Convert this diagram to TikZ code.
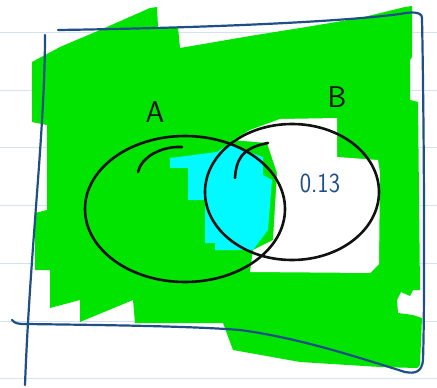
\documentclass[tikz,border=0pt]{standalone}
\usepackage{tikz}
\usetikzlibrary{calc}
\definecolor{pagelines}{HTML}{D3E2EE}
\definecolor{markgreen}{HTML}{00E400}
\definecolor{markcyan}{HTML}{00FAFF}
\definecolor{penblue}{HTML}{1F4F86}
\definecolor{penblack}{HTML}{111111}

\begin{document}
\begin{tikzpicture}[
    x=1pt, y=-1pt,
    line cap=round, line join=round,
    pagerule/.style={draw=pagelines, line width=0.9pt},
    framepen/.style={draw=penblue, line width=2.2pt},
    setpen/.style={draw=penblack, line width=2.6pt},
    setlabel/.style={text=penblack, font=\sffamily\fontsize{30}{30}\selectfont, inner sep=0pt},
    valuelabel/.style={text=penblue, font=\sffamily\fontsize{24}{24}\selectfont, yscale=1.15, inner sep=0pt}
  ]
    % Blatt (Hintergrund und Linien)
    \fill[white] (0,0) rectangle (437,388);
    \useasboundingbox (0,0) rectangle (437,388);
    \foreach \ly in {32,90,147,205,263,321,378}
      \draw[pagerule] (0,\ly) -- (437,\ly);

    % gruene Markierung (Komplement von B ohne A-Teil)
    \fill[markgreen] (32,62) -- (60,47) -- (100,30) -- (150,8) -- (157,7) -- (158,27)
      -- (178,27) -- (180,48) -- (250,36) -- (300,28) -- (360,18) -- (405,7)
      -- (412,6) -- (412,57) -- (410,60) -- (410,100) -- (418,102) -- (420,290)
      -- (413,290) -- (410,296) -- (401,292) -- (397,300) -- (398,313) -- (413,315)
      -- (422,318) -- (420,365) -- (417,368) -- (380,367) -- (300,362) -- (233,350)
      -- (223,323) -- (135,323) -- (133,300) -- (80,322) -- (80,300) -- (50,308)
      -- (50,270) -- (35,270) -- (35,213) -- (47,210) -- (47,125) -- (32,122) -- cycle;

    % weisser Bereich in B
    \fill[white] (233,140) -- (250,130) -- (280,119) -- (337,118) -- (337,157)
      -- (378,160) -- (380,173) -- (379,264) -- (370,273) -- (250,272) -- (253,250)
      -- (273,240) -- (277,173) -- (267,143) -- cycle;

    % Schnittmenge (cyan)
    \fill[markcyan] (170,158) -- (170,168) -- (188,168) -- (188,200) -- (205,200)
      -- (205,243) -- (215,243) -- (215,250) -- (253,250) -- (268,230) -- (272,180)
      -- (263,175) -- (263,157) -- (238,148) -- (230,143) -- (217,152) -- cycle;

    % Mengen A und B
    \draw[setpen] (185,209) ellipse [x radius=100pt, y radius=73pt];
    \draw[setpen] (292,192) ellipse [x radius=87pt, y radius=68pt];
    \draw[setpen] (138,172) .. controls (141,158) and (160,146) .. (182,147);
    \draw[setpen] (235,178) .. controls (236,162) and (240,148) .. (268,143);

    % Rahmen (Grundmenge)
    \draw[framepen] (58,30) .. controls (200,28) and (340,22) .. (400,14)
      .. controls (410,12) and (422,11) .. (422,18);
    \draw[framepen] (422,18) .. controls (424,120) and (425,300) .. (423,360)
      .. controls (422,372) and (415,374) .. (405,372);
    \draw[framepen] (12,320) .. controls (15,324) and (20,324) .. (26,324)
      .. controls (100,325) and (190,326) .. (240,330)
      .. controls (300,338) and (360,358) .. (405,372);
    \draw[framepen] (45,35) .. controls (45,130) and (30,250) .. (25,385);

    % Beschriftungen
    \node[setlabel] (labelA) at (155,112) {A};
    \node[setlabel] (labelB) at (337,97) {B};
    \node[valuelabel] (wert) at (320,183) {0.13};

  \end{tikzpicture}
\end{document}
